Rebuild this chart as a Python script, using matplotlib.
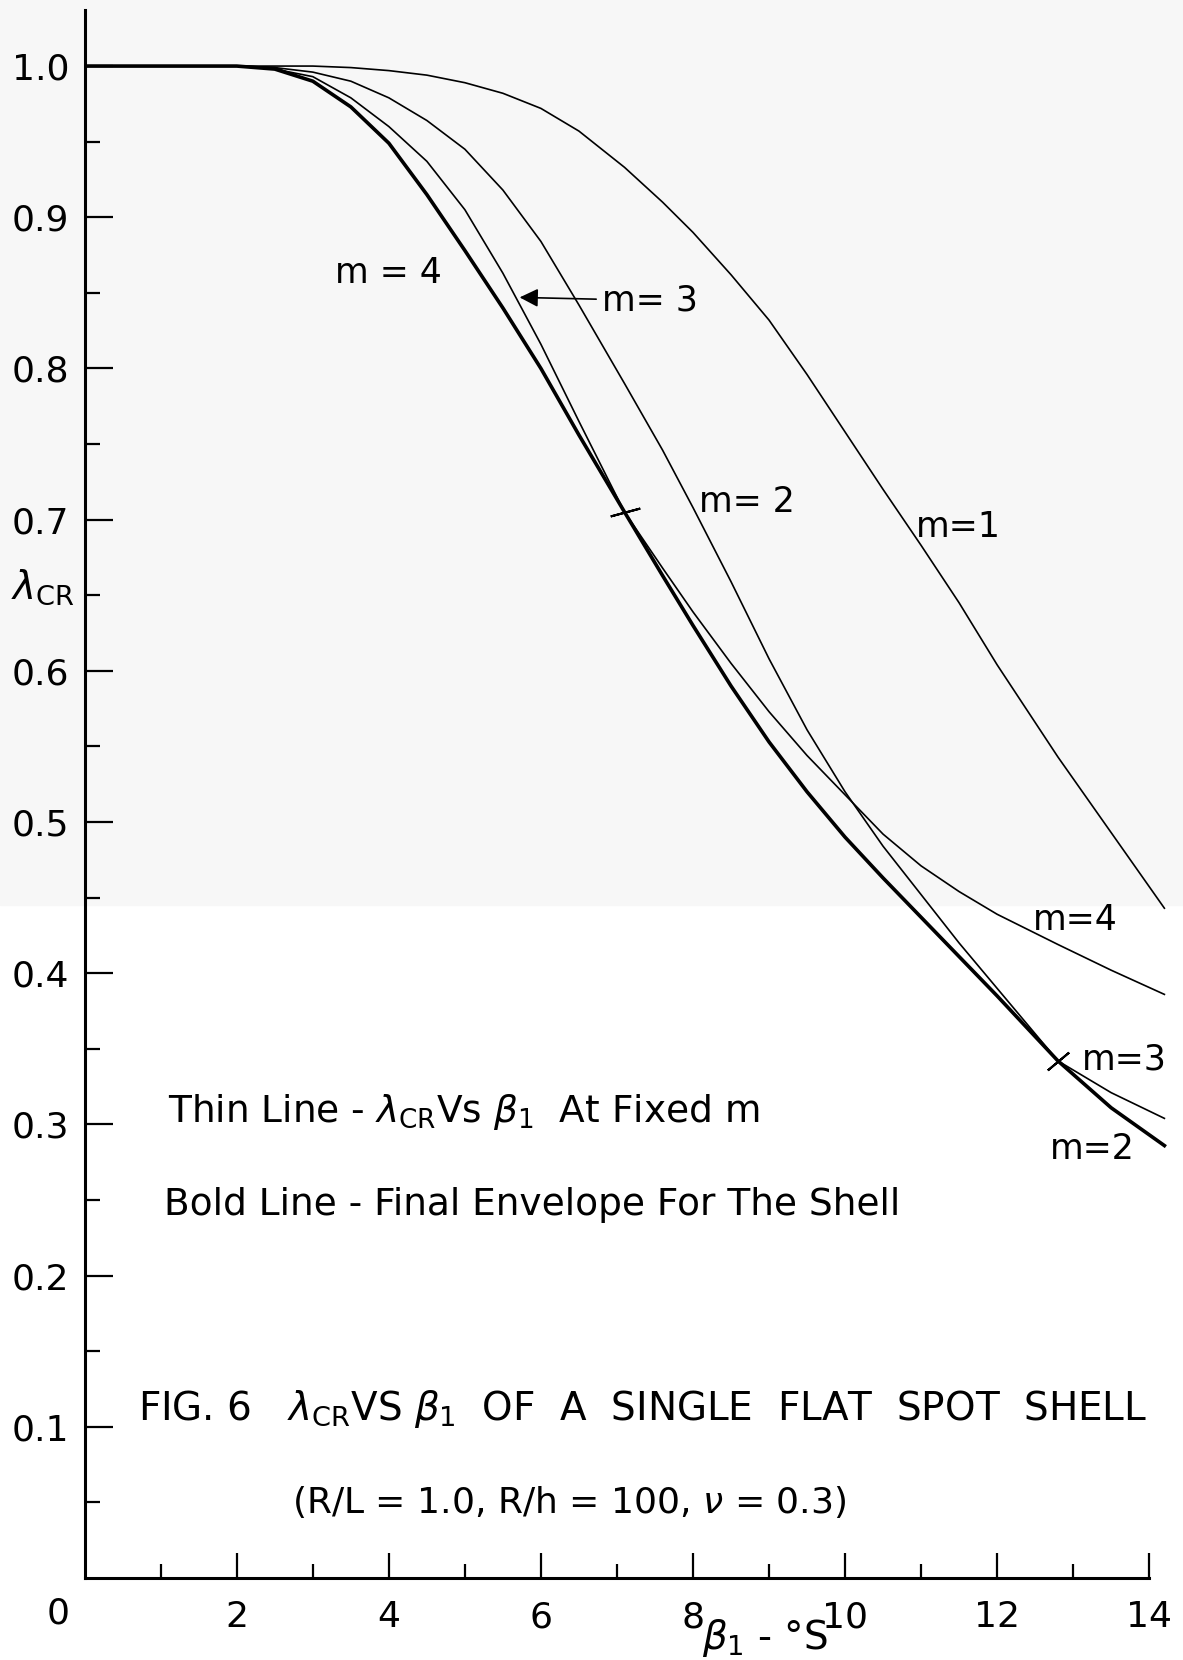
import matplotlib.pyplot as plt
import numpy as np
from matplotlib.patches import Rectangle

# beta_1 (deg) grid and lambda_CR for each m
beta = [0, 1, 2, 2.5, 3, 3.5, 4, 4.5, 5, 5.5, 6, 6.5, 7.1, 7.6, 8, 8.5,
        9, 9.5, 10, 10.5, 11, 11.5, 12, 12.8, 13.5, 14.2]
lam_m1 = [1.0, 1.0, 1.0, 1.0, 1.0, 0.999, 0.997, 0.994, 0.989, 0.982, 0.972, 0.957,
          0.933, 0.910, 0.890, 0.862, 0.832, 0.796, 0.758, 0.720, 0.683, 0.645,
          0.604, 0.543, 0.493, 0.443]
lam_m2 = [1.0, 1.0, 1.0, 0.999, 0.996, 0.990, 0.979, 0.964, 0.945, 0.918, 0.884, 0.842,
          0.790, 0.746, 0.708, 0.659, 0.608, 0.561, 0.520, 0.484, 0.452, 0.420,
          0.390, 0.342, 0.311, 0.286]
lam_m3 = [1.0, 1.0, 1.0, 0.998, 0.993, 0.979, 0.960, 0.937, 0.905, 0.863, 0.816, 0.765,
          0.705, 0.663, 0.630, 0.590, 0.553, 0.520, 0.490, 0.463, 0.437, 0.411,
          0.385, 0.342, 0.321, 0.304]
lam_m4 = [1.0, 1.0, 1.0, 0.999, 0.990, 0.973, 0.949, 0.915, 0.878, 0.840, 0.800, 0.756,
          0.705, 0.668, 0.639, 0.605, 0.573, 0.544, 0.518, 0.492, 0.471, 0.454,
          0.439, 0.419, 0.402, 0.386]

# where the envelope switches mode (marked with a short stroke)
switch_beta = [7.1, 12.8]
switch_lam = [0.705, 0.342]

plt.rcParams['mathtext.fontset'] = 'dejavusans'
plt.rcParams['font.family'] = ['DejaVu Sans']

fig = plt.figure(figsize=(11.83, 16.60), dpi=100)
fig.patch.set_facecolor('white')
# scan shading on the upper part of the page
fig.patches.append(Rectangle((0, 0.455), 1, 0.545, transform=fig.transFigure,
                             color='#f7f7f7', zorder=-10))

ax = fig.add_axes([0.0716, 0.0494, 0.9191, 0.9445])
ax.set_facecolor('none')

for lam in [lam_m1, lam_m2, lam_m3, lam_m4]:
    ax.plot(beta, lam, color='black', lw=1.2, solid_joinstyle='round')

envelope = np.minimum.reduce([lam_m1, lam_m2, lam_m3, lam_m4])
ax.plot(beta, envelope, color='black', lw=2.6, solid_joinstyle='round')

ax.plot(switch_beta[0], switch_lam[0], marker=(2, 2, 105), ms=22, mew=1.5, color='black')
ax.plot(switch_beta[1], switch_lam[1], marker=(2, 2, 130), ms=20, mew=1.5, color='black')

ax.set_xlim(0, 14.3)
ax.set_ylim(0, 1.037)
ax.spines['top'].set_visible(False)
ax.spines['right'].set_visible(False)
ax.spines['left'].set_linewidth(2.2)
ax.spines['bottom'].set_linewidth(2.2)
ax.spines['bottom'].set_bounds(0, 14)

ax.set_xticks(np.arange(2, 15, 2))
ax.set_xticks(np.arange(1, 14, 2), minor=True)
ax.set_yticks(np.arange(0.1, 1.01, 0.1))
ax.set_yticklabels(['0.1', '0.2', '0.3', '0.4', '0.5', '0.6', '0.7', '0.8', '0.9', '1.0'])
ax.set_yticks(np.arange(0.05, 1.0, 0.1), minor=True)
ax.tick_params(axis='x', which='major', direction='in', length=18, width=1.6,
               labelsize=26, pad=16)
ax.tick_params(axis='x', which='minor', direction='in', length=10, width=1.6)
ax.tick_params(axis='y', which='major', direction='in', length=20, width=1.6,
               labelsize=26, pad=11)
ax.tick_params(axis='y', which='minor', direction='in', length=11, width=1.6)
ax.text(-0.35, -0.0235, '0', fontsize=26, ha='center', va='center', clip_on=False)

ax.text(-0.97, 0.655, r'$\lambda_{\mathrm{CR}}$', fontsize=28, ha='left', va='center',
        clip_on=False)
ax.text(8.95, -0.04, r'$\beta_1$ - °S', fontsize=28, ha='center', va='center',
        clip_on=False)

# curve labels
ax.text(4.0, 0.863, 'm = 4', fontsize=25, ha='center', va='center')
ax.annotate('m= 3', xy=(5.72, 0.847), xytext=(6.8, 0.845), fontsize=25,
            ha='left', va='center',
            arrowprops=dict(arrowstyle='-|>', color='black', lw=1.2,
                            mutation_scale=28, shrinkA=2, shrinkB=0))
ax.text(8.08, 0.712, 'm= 2', fontsize=25, ha='left', va='center')
ax.text(10.93, 0.695, 'm=1', fontsize=25, ha='left', va='center')
ax.text(12.47, 0.435, 'm=4', fontsize=25, ha='left', va='center')
ax.text(13.12, 0.343, 'm=3', fontsize=25, ha='left', va='center')
ax.text(12.7, 0.284, 'm=2', fontsize=25, ha='left', va='center')

ax.text(1.09, 0.308, r'Thin Line - $\lambda_{\mathrm{CR}}$Vs $\beta_1$  At Fixed m',
        fontsize=27, ha='left', va='center')
ax.text(1.04, 0.247, 'Bold Line - Final Envelope For The Shell',
        fontsize=27, ha='left', va='center')
ax.text(0.70, 0.112,
        r'FIG. 6   $\lambda_{\mathrm{CR}}$VS $\beta_1$  OF  A  SINGLE  FLAT  SPOT  SHELL',
        fontsize=28, ha='left', va='center')
ax.text(2.72, 0.050, r'(R/L = 1.0, R/h = 100, $\nu$ = 0.3)',
        fontsize=26, ha='left', va='center')

fig.savefig('out.png', dpi=100)
